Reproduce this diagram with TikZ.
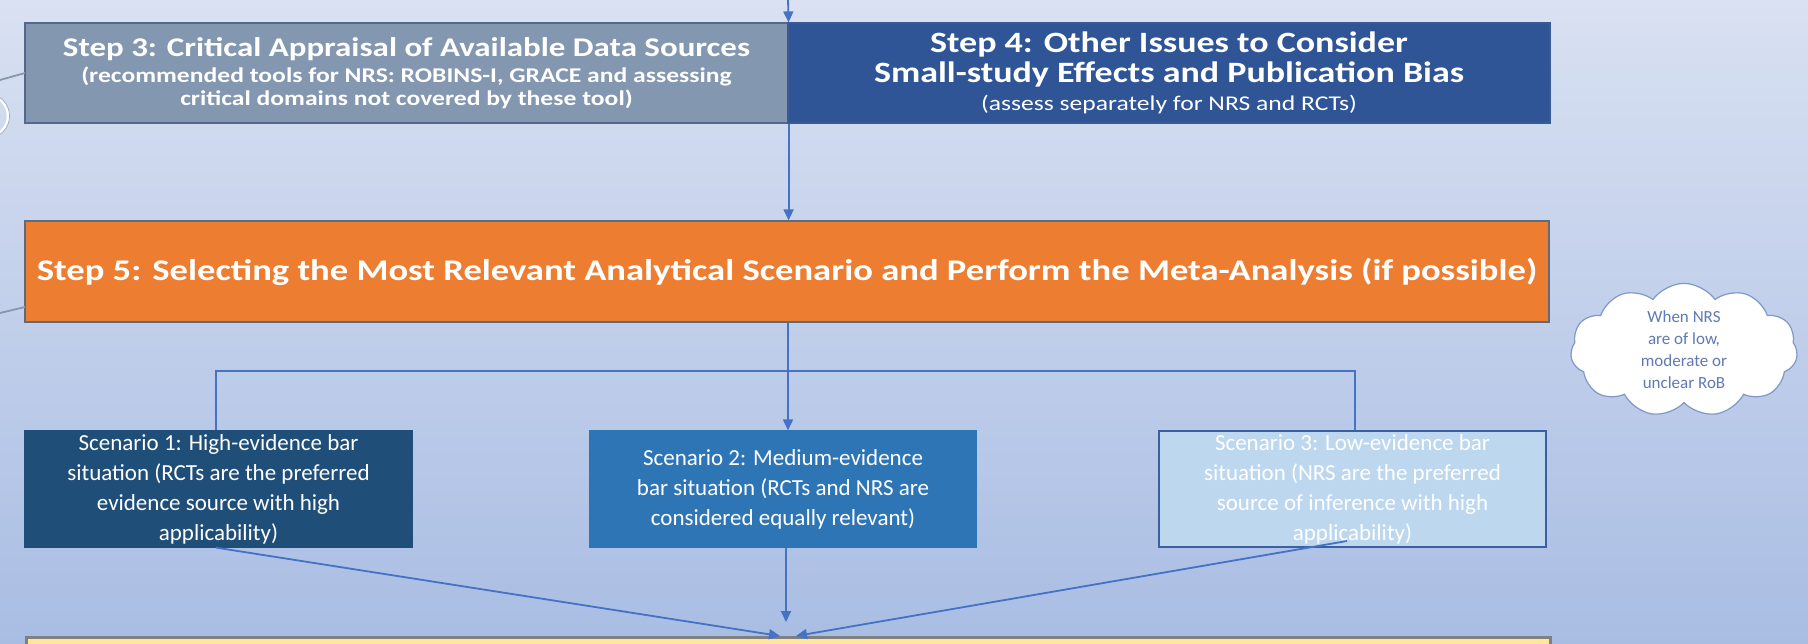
\documentclass[tikz,border=0pt]{standalone}
\usepackage{fontspec}
\setmainfont{Carlito}
\newfontfamily\widefont{Carlito}[FakeStretch=1.22]
\usetikzlibrary{arrows.meta,shapes.symbols}
\definecolor{bgtop}{HTML}{D9E1F2}
\definecolor{bgbot}{HTML}{A9BDE3}
\definecolor{stepiii}{HTML}{8497B0}
\definecolor{stepiiiB}{HTML}{56688A}
\definecolor{stepiv}{HTML}{2F5597}
\definecolor{stepivB}{HTML}{3A5A94}
\definecolor{stepv}{HTML}{ED7D31}
\definecolor{stepvB}{HTML}{5F6B7A}
\definecolor{scni}{HTML}{1F4E79}
\definecolor{scnii}{HTML}{2E75B6}
\definecolor{scniii}{HTML}{BDD7EE}
\definecolor{scniiiB}{HTML}{3B5FA0}
\definecolor{lineblue}{HTML}{4472C4}
\definecolor{yel}{HTML}{FFE699}
\definecolor{cloudtxt}{HTML}{5F7AB4}
\definecolor{cloudB}{HTML}{7F98C8}
\tikzset{
  conn/.style={draw=lineblue, line width=1.8pt},
  arr/.style={conn, -{Triangle[length=11pt,width=10pt]}},
  boxbase/.style={rectangle, inner sep=0pt, align=center, text=white, line width=1.2pt},
  scnbox/.style={boxbase, minimum width=387pt, minimum height=116pt, font=\fontsize{23}{30}\selectfont},
}
\begin{document}
\begin{tikzpicture}[x=1pt,y=-1pt]
\useasboundingbox (0,0) rectangle (1808,644);
\clip (0,0) rectangle (1808,644);
\shade[top color=bgtop, bottom color=bgbot] (0,0) rectangle (1808,644);
% partial circle and side connectors at left edge
\draw[white, line width=2.5pt] (-13,116) circle (21);
\draw[stepiiiB!60, line width=0.6pt] (-13,116) circle (22.5);
\coordinate (lin3) at (0,80);
\coordinate (lin5) at (0,313);
\coordinate (topin) at (788,0);
% boxes
\node[boxbase, fill=stepiii, draw=stepiiiB, minimum width=763pt, minimum height=100pt,
      font=\widefont\fontsize{21}{23}\selectfont\bfseries] (s3) at (406.5,73)
  {{\fontsize{27}{27}\selectfont Step 3: Critical Appraisal of Available Data Sources}\\[3pt]
   (recommended tools for NRS: ROBINS-I, GRACE and assessing\\
   critical domains not covered by these tool)};
\node[boxbase, fill=stepiv, draw=stepivB, minimum width=762pt, minimum height=100pt,
      font=\widefont\fontsize{21}{23}\selectfont] (s4) at (1169,73)
  {{\fontsize{29.5}{29.5}\selectfont\bfseries Step 4: Other Issues to Consider}\\[3pt]
   {\fontsize{29.5}{29.5}\selectfont\bfseries Small-study Effects and Publication Bias}\\[5pt]
   (assess separately for NRS and RCTs)};
\node[boxbase, fill=stepv, draw=stepvB, minimum width=1524pt, minimum height=101pt,
      font=\widefont\fontsize{30}{34}\selectfont\bfseries] (s5) at (787,271.5)
  {Step 5: Selecting the Most Relevant Analytical Scenario and Perform the Meta-Analysis (if possible)};
\node[scnbox, fill=scni, draw=scni] (sc1) at (218.5,489)
  {Scenario 1: High-evidence bar\\situation (RCTs are the preferred\\evidence source with high\\applicability)};
\node[scnbox, fill=scnii, draw=scnii] (sc2) at (783,489)
  {Scenario 2: Medium-evidence\\bar situation (RCTs and NRS are\\considered equally relevant)};
\node[scnbox, fill=scniii, draw=scniiiB] (sc3) at (1352.5,489)
  {Scenario 3: Low-evidence bar\\situation (NRS are the preferred\\source of inference with high\\applicability)};
\node[cloud, cloud puffs=11, cloud puff arc=110, aspect=1.7, fill=white, draw=cloudB, line width=1.2pt,
      minimum width=227pt, minimum height=126pt, inner sep=0pt, align=center, text=cloudtxt,
      font=\fontsize{17}{22}\selectfont] (cl) at (1684,350)
  {When NRS\\are of low,\\moderate or\\unclear RoB};
\node[rectangle, fill=yel, draw=gray, line width=2.5pt, minimum width=1524pt, minimum height=60pt,
      anchor=north west, inner sep=0pt] (fin) at (25,636) {};
% connectors
\draw[conn, draw=stepiiiB!70] (lin3) -- (25,73);
\draw[arr] (topin) -- (s3.north east);
\draw[arr] (s3.south east) -- (s3.south east |- s5.north);
\coordinate (br) at (788,371);
\draw[conn] (s5.south -| br) -- (br);
\draw[conn] (sc1.north -| 216,0) -- (216,371) -- (1355,371) -- (sc3.north -| 1355,0);
\draw[arr] (br) -- (br |- sc2.north);
\draw[conn, draw=stepiiiB!70] (lin5) -- (25,307);
\draw[arr] (sc1.south -| 216,0) -- (780,636);
\draw[arr] (sc2.south -| 786,0) -- (786,622);
\draw[arr] (1347,541) -- (796,636);
\end{tikzpicture}
\end{document}
